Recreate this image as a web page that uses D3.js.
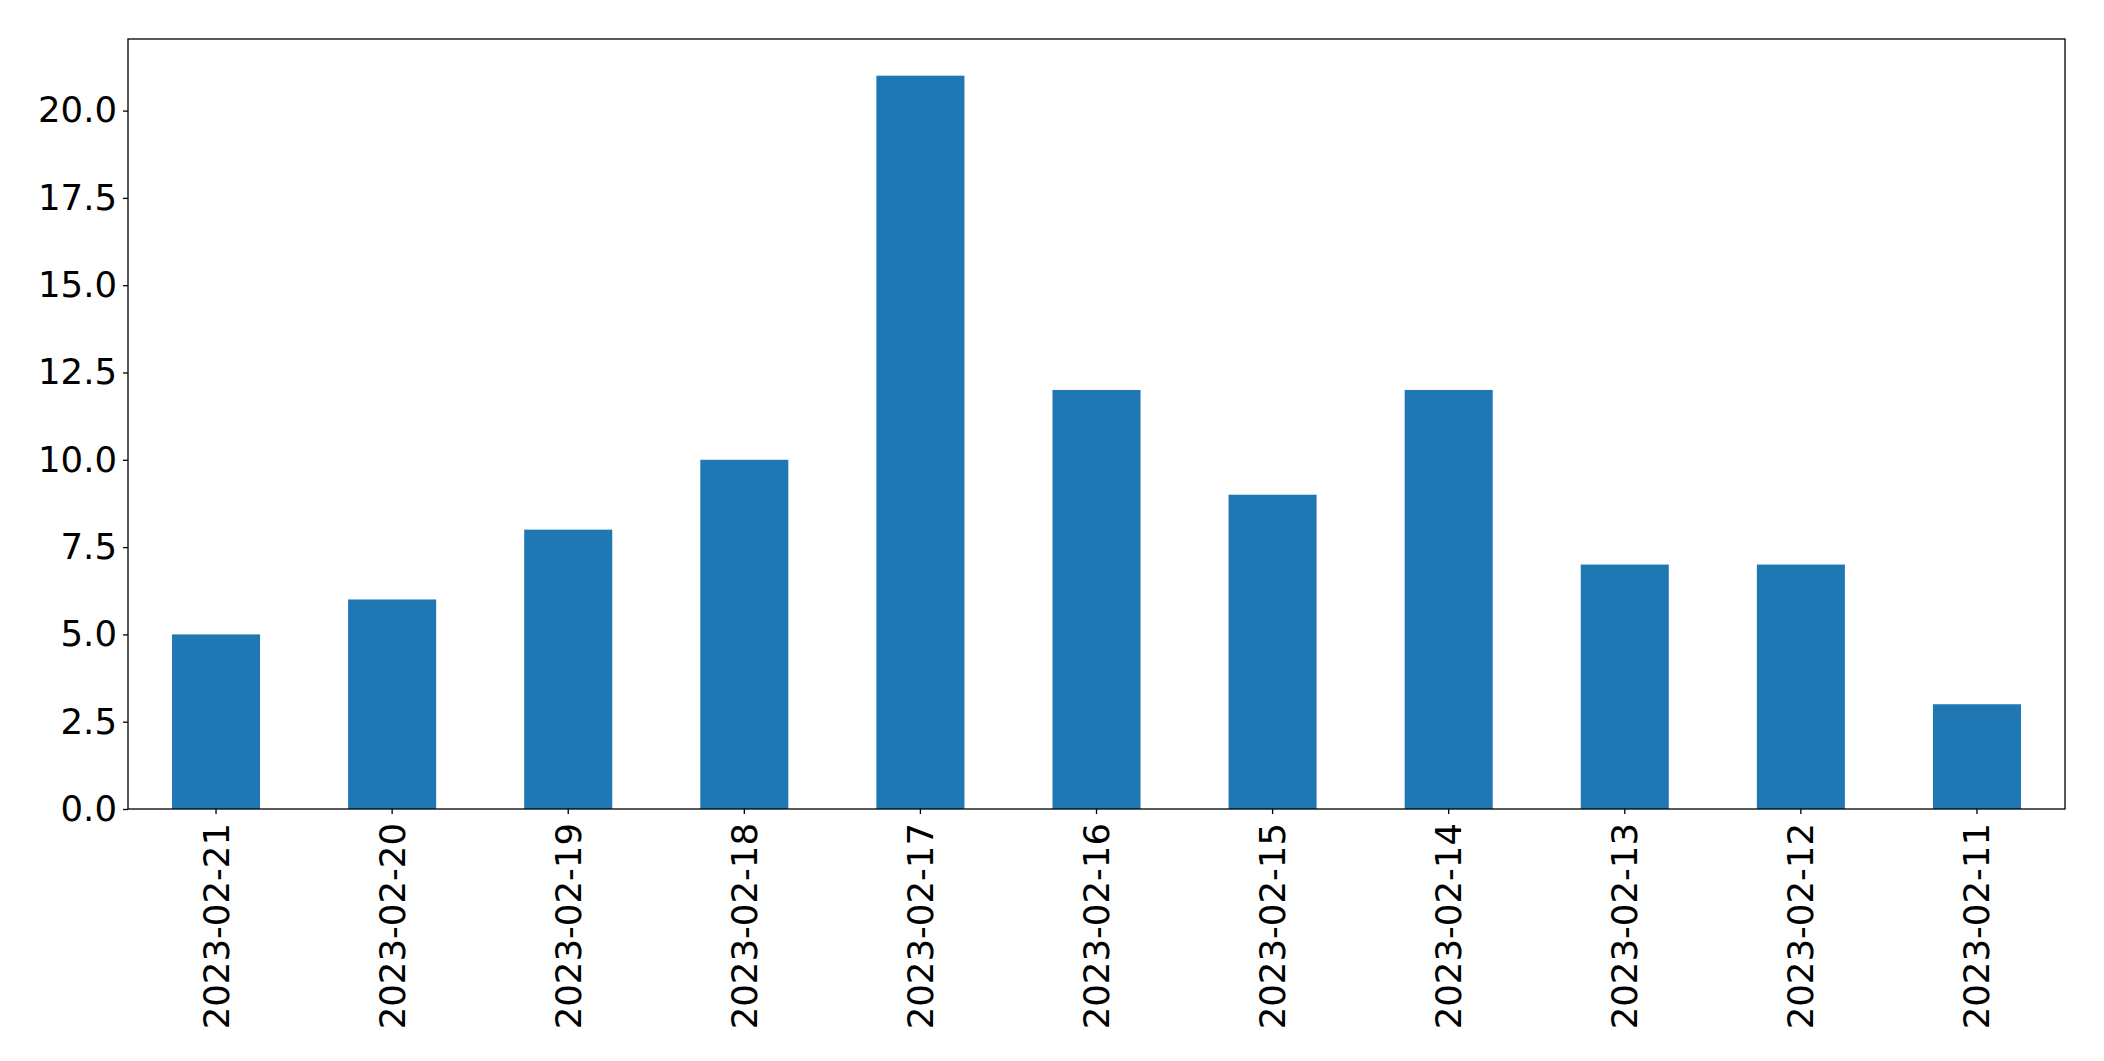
<!DOCTYPE html>
<html><head><meta charset="utf-8">
<script src="https://cdn.jsdelivr.net/npm/d3@7"></script>
<style>body{margin:0;background:#fff}svg{display:block}text{font-family:"DejaVu Sans",sans-serif}</style>
</head><body>
<script>
const categories = ["2023-02-21","2023-02-20","2023-02-19","2023-02-18","2023-02-17","2023-02-16","2023-02-15","2023-02-14","2023-02-13","2023-02-12","2023-02-11"];
const values = [5,6,8,10,21,12,9,12,7,7,3];
const yTicks = [0,2.5,5,7.5,10,12.5,15,17.5,20];

const W=2104,H=1061, L=128, R=2065, T=39, B=809;
const svg=d3.select("body").append("svg").attr("width",W).attr("height",H);
const x=d3.scaleBand().domain(categories).range([L,R]).paddingInner(0.5).paddingOuter(0.25);
const y=d3.scaleLinear().domain([0,d3.max(values)*1.05]).range([B,T]);

svg.selectAll("rect.bar").data(values).enter().append("rect").attr("class","bar")
 .attr("x",(d,i)=>x(categories[i])).attr("width",x.bandwidth())
 .attr("y",d=>y(d)).attr("height",d=>B-y(d)).attr("fill","#1f77b4");

const fs=35.5;
const ya=svg.append("g").attr("transform",`translate(${L},0)`)
 .call(d3.axisLeft(y).tickValues(yTicks).tickFormat(d3.format(".1f")).tickSize(5).tickPadding(6));
ya.select(".domain").remove();
ya.selectAll("text").attr("font-size",fs).attr("fill","#000").attr("font-family","DejaVu Sans");
ya.selectAll("line").attr("stroke","#000").attr("stroke-width",1.3);

const xa=svg.append("g").attr("transform",`translate(0,${B})`)
 .call(d3.axisBottom(x).tickSize(5).tickPadding(0));
xa.select(".domain").remove();
xa.selectAll("line").attr("stroke","#000").attr("stroke-width",1.3);
xa.selectAll("text").attr("font-size",fs).attr("fill","#000").attr("font-family","DejaVu Sans")
 .attr("text-anchor","end").attr("dy",null).attr("y",0)
 .attr("transform","translate(0,14) rotate(-90)").attr("dominant-baseline","central");

svg.append("rect").attr("x",L).attr("y",T).attr("width",R-L).attr("height",B-T)
 .attr("fill","none").attr("stroke","#000").attr("stroke-width",1.3);
</script>
</body></html>
